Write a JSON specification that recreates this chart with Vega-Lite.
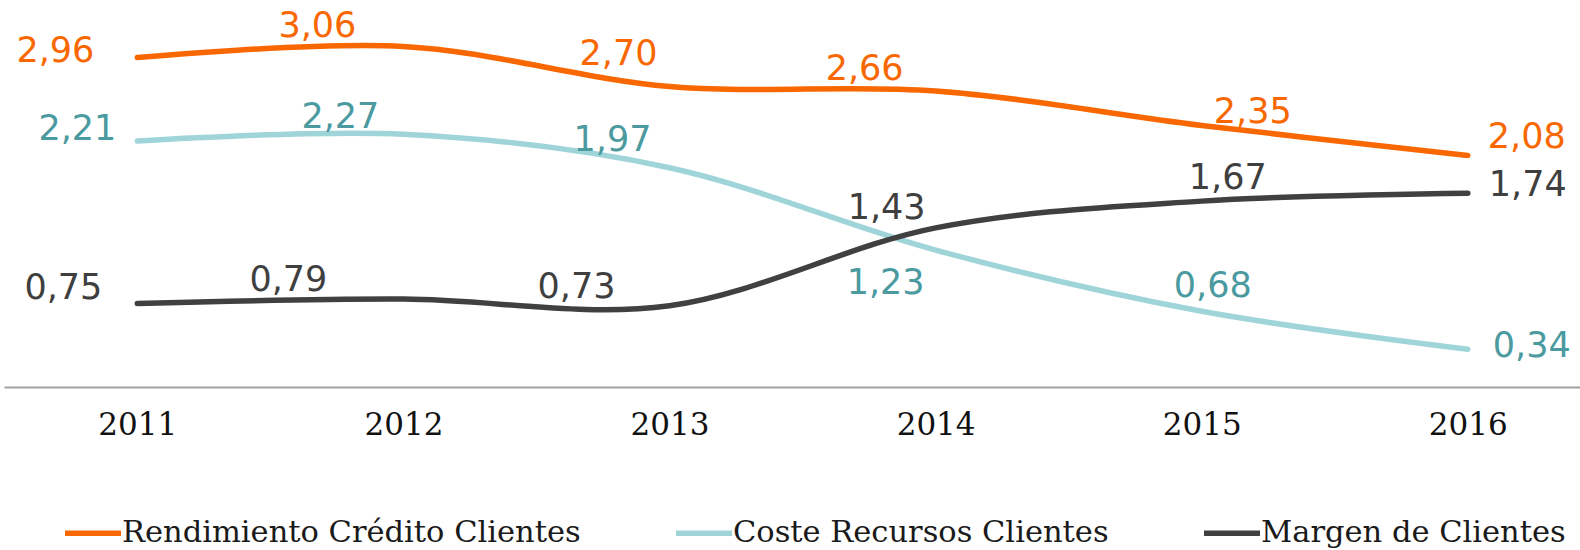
{
  "$schema": "https://vega.github.io/schema/vega-lite/v6.json",
  "width": 1576,
  "height": 387,
  "autosize": "none",
  "padding": {"left": 4, "top": 0, "right": 0, "bottom": 163},
  "background": "white",
  "config": {
    "view": {"stroke": null},
    "locale": {"number": {"decimal": ",", "thousands": ".", "grouping": [3], "currency": ["", " €"]}}
  },
  "data": {
    "values": [
      {"serie": "Rendimiento Crédito Clientes", "year": 2011, "v": 2.96},
      {"serie": "Rendimiento Crédito Clientes", "year": 2012, "v": 3.06},
      {"serie": "Rendimiento Crédito Clientes", "year": 2013, "v": 2.70},
      {"serie": "Rendimiento Crédito Clientes", "year": 2014, "v": 2.66},
      {"serie": "Rendimiento Crédito Clientes", "year": 2015, "v": 2.35},
      {"serie": "Rendimiento Crédito Clientes", "year": 2016, "v": 2.08},
      {"serie": "Coste Recursos Clientes", "year": 2011, "v": 2.21},
      {"serie": "Coste Recursos Clientes", "year": 2012, "v": 2.27},
      {"serie": "Coste Recursos Clientes", "year": 2013, "v": 1.97},
      {"serie": "Coste Recursos Clientes", "year": 2014, "v": 1.23},
      {"serie": "Coste Recursos Clientes", "year": 2015, "v": 0.68},
      {"serie": "Coste Recursos Clientes", "year": 2016, "v": 0.34},
      {"serie": "Margen de Clientes", "year": 2011, "v": 0.75},
      {"serie": "Margen de Clientes", "year": 2012, "v": 0.79},
      {"serie": "Margen de Clientes", "year": 2013, "v": 0.73},
      {"serie": "Margen de Clientes", "year": 2014, "v": 1.43},
      {"serie": "Margen de Clientes", "year": 2015, "v": 1.67},
      {"serie": "Margen de Clientes", "year": 2016, "v": 1.74}
    ]
  },
  "encoding": {
    "x": {
      "field": "year", "type": "quantitative",
      "scale": {"domain": [2010.499, 2016.4216], "nice": false, "zero": false},
      "axis": {
        "values": [2011, 2012, 2013, 2014, 2015, 2016], "format": "d", "title": null,
        "grid": false, "ticks": false, "tickSize": 0,
        "domainColor": "#a0a0a0", "domainWidth": 2,
        "labelFont": "DejaVu Serif", "labelFontSize": 31, "labelColor": "#111111",
        "labelPadding": 23, "labelFlush": false, "labelOverlap": false
      }
    },
    "y": {
      "field": "v", "type": "quantitative",
      "scale": {"domain": [0, 3.477], "nice": false, "zero": true},
      "axis": null
    }
  },
  "layer": [
    {
      "mark": {"type": "line", "interpolate": "cardinal", "strokeWidth": 5.5, "strokeCap": "round"},
      "encoding": {
        "color": {
          "field": "serie", "type": "nominal",
          "scale": {
            "domain": ["Rendimiento Crédito Clientes", "Coste Recursos Clientes", "Margen de Clientes"],
            "range": ["#F96800", "#9FD5D9", "#404040"]
          },
          "legend": {
            "orient": "none", "legendX": 58, "legendY": 502, "direction": "horizontal",
            "title": null, "padding": 0,
            "symbolType": "stroke", "symbolSize": 3136, "symbolStrokeWidth": 5.5,
            "labelFont": "DejaVu Serif", "labelFontSize": 30.5, "labelColor": "#1a1a1a",
            "labelOffset": -2, "labelLimit": 1000, "columnPadding": 84
          }
        }
      }
    },
    {"transform": [{"filter": "datum.serie[0]=='R' && datum.year==2011"}], "mark": {"type": "text", "align": "right", "baseline": "alphabetic", "dx": -43, "dy": 4, "font": "DejaVu Sans", "fontSize": 35, "color": "#F96800"}, "encoding": {"text": {"field": "v", "type": "quantitative", "format": ".2f"}}},
    {"transform": [{"filter": "datum.serie[0]=='R' && datum.year==2012"}], "mark": {"type": "text", "align": "center", "baseline": "alphabetic", "dx": -86, "dy": -9, "font": "DejaVu Sans", "fontSize": 35, "color": "#F96800"}, "encoding": {"text": {"field": "v", "type": "quantitative", "format": ".2f"}}},
    {"transform": [{"filter": "datum.serie[0]=='R' && datum.year==2013"}], "mark": {"type": "text", "align": "center", "baseline": "alphabetic", "dx": -51, "dy": -21, "font": "DejaVu Sans", "fontSize": 35, "color": "#F96800"}, "encoding": {"text": {"field": "v", "type": "quantitative", "format": ".2f"}}},
    {"transform": [{"filter": "datum.serie[0]=='R' && datum.year==2014"}], "mark": {"type": "text", "align": "center", "baseline": "alphabetic", "dx": -71, "dy": -11, "font": "DejaVu Sans", "fontSize": 35, "color": "#F96800"}, "encoding": {"text": {"field": "v", "type": "quantitative", "format": ".2f"}}},
    {"transform": [{"filter": "datum.serie[0]=='R' && datum.year==2015"}], "mark": {"type": "text", "align": "center", "baseline": "alphabetic", "dx": 51, "dy": -2, "font": "DejaVu Sans", "fontSize": 35, "color": "#F96800"}, "encoding": {"text": {"field": "v", "type": "quantitative", "format": ".2f"}}},
    {"transform": [{"filter": "datum.serie[0]=='R' && datum.year==2016"}], "mark": {"type": "text", "align": "left", "baseline": "alphabetic", "dx": 20, "dy": -7, "font": "DejaVu Sans", "fontSize": 35, "color": "#F96800"}, "encoding": {"text": {"field": "v", "type": "quantitative", "format": ".2f"}}},
    {"transform": [{"filter": "datum.serie[0]=='C' && datum.year==2011"}], "mark": {"type": "text", "align": "right", "baseline": "alphabetic", "dx": -21, "dy": -1, "font": "DejaVu Sans", "fontSize": 35, "color": "#4A9AA0"}, "encoding": {"text": {"field": "v", "type": "quantitative", "format": ".2f"}}},
    {"transform": [{"filter": "datum.serie[0]=='C' && datum.year==2012"}], "mark": {"type": "text", "align": "center", "baseline": "alphabetic", "dx": -63, "dy": -6, "font": "DejaVu Sans", "fontSize": 35, "color": "#4A9AA0"}, "encoding": {"text": {"field": "v", "type": "quantitative", "format": ".2f"}}},
    {"transform": [{"filter": "datum.serie[0]=='C' && datum.year==2013"}], "mark": {"type": "text", "align": "center", "baseline": "alphabetic", "dx": -57, "dy": -17, "font": "DejaVu Sans", "fontSize": 35, "color": "#4A9AA0"}, "encoding": {"text": {"field": "v", "type": "quantitative", "format": ".2f"}}},
    {"transform": [{"filter": "datum.serie[0]=='C' && datum.year==2014"}], "mark": {"type": "text", "align": "center", "baseline": "alphabetic", "dx": -50, "dy": 44, "font": "DejaVu Sans", "fontSize": 35, "color": "#4A9AA0"}, "encoding": {"text": {"field": "v", "type": "quantitative", "format": ".2f"}}},
    {"transform": [{"filter": "datum.serie[0]=='C' && datum.year==2015"}], "mark": {"type": "text", "align": "center", "baseline": "alphabetic", "dx": 11, "dy": -14, "font": "DejaVu Sans", "fontSize": 35, "color": "#4A9AA0"}, "encoding": {"text": {"field": "v", "type": "quantitative", "format": ".2f"}}},
    {"transform": [{"filter": "datum.serie[0]=='C' && datum.year==2016"}], "mark": {"type": "text", "align": "left", "baseline": "alphabetic", "dx": 25, "dy": 8, "font": "DejaVu Sans", "fontSize": 35, "color": "#4A9AA0"}, "encoding": {"text": {"field": "v", "type": "quantitative", "format": ".2f"}}},
    {"transform": [{"filter": "datum.serie[0]=='M' && datum.year==2011"}], "mark": {"type": "text", "align": "right", "baseline": "alphabetic", "dx": -35, "dy": -5, "font": "DejaVu Sans", "fontSize": 35, "color": "#3F3F3F"}, "encoding": {"text": {"field": "v", "type": "quantitative", "format": ".2f"}}},
    {"transform": [{"filter": "datum.serie[0]=='M' && datum.year==2012"}], "mark": {"type": "text", "align": "center", "baseline": "alphabetic", "dx": -115, "dy": -8, "font": "DejaVu Sans", "fontSize": 35, "color": "#3F3F3F"}, "encoding": {"text": {"field": "v", "type": "quantitative", "format": ".2f"}}},
    {"transform": [{"filter": "datum.serie[0]=='M' && datum.year==2013"}], "mark": {"type": "text", "align": "center", "baseline": "alphabetic", "dx": -93, "dy": -8, "font": "DejaVu Sans", "fontSize": 35, "color": "#3F3F3F"}, "encoding": {"text": {"field": "v", "type": "quantitative", "format": ".2f"}}},
    {"transform": [{"filter": "datum.serie[0]=='M' && datum.year==2014"}], "mark": {"type": "text", "align": "center", "baseline": "alphabetic", "dx": -49, "dy": -9, "font": "DejaVu Sans", "fontSize": 35, "color": "#3F3F3F"}, "encoding": {"text": {"field": "v", "type": "quantitative", "format": ".2f"}}},
    {"transform": [{"filter": "datum.serie[0]=='M' && datum.year==2015"}], "mark": {"type": "text", "align": "center", "baseline": "alphabetic", "dx": 26, "dy": -12, "font": "DejaVu Sans", "fontSize": 35, "color": "#3F3F3F"}, "encoding": {"text": {"field": "v", "type": "quantitative", "format": ".2f"}}},
    {"transform": [{"filter": "datum.serie[0]=='M' && datum.year==2016"}], "mark": {"type": "text", "align": "left", "baseline": "alphabetic", "dx": 21, "dy": 3, "font": "DejaVu Sans", "fontSize": 35, "color": "#3F3F3F"}, "encoding": {"text": {"field": "v", "type": "quantitative", "format": ".2f"}}}
  ]
}
